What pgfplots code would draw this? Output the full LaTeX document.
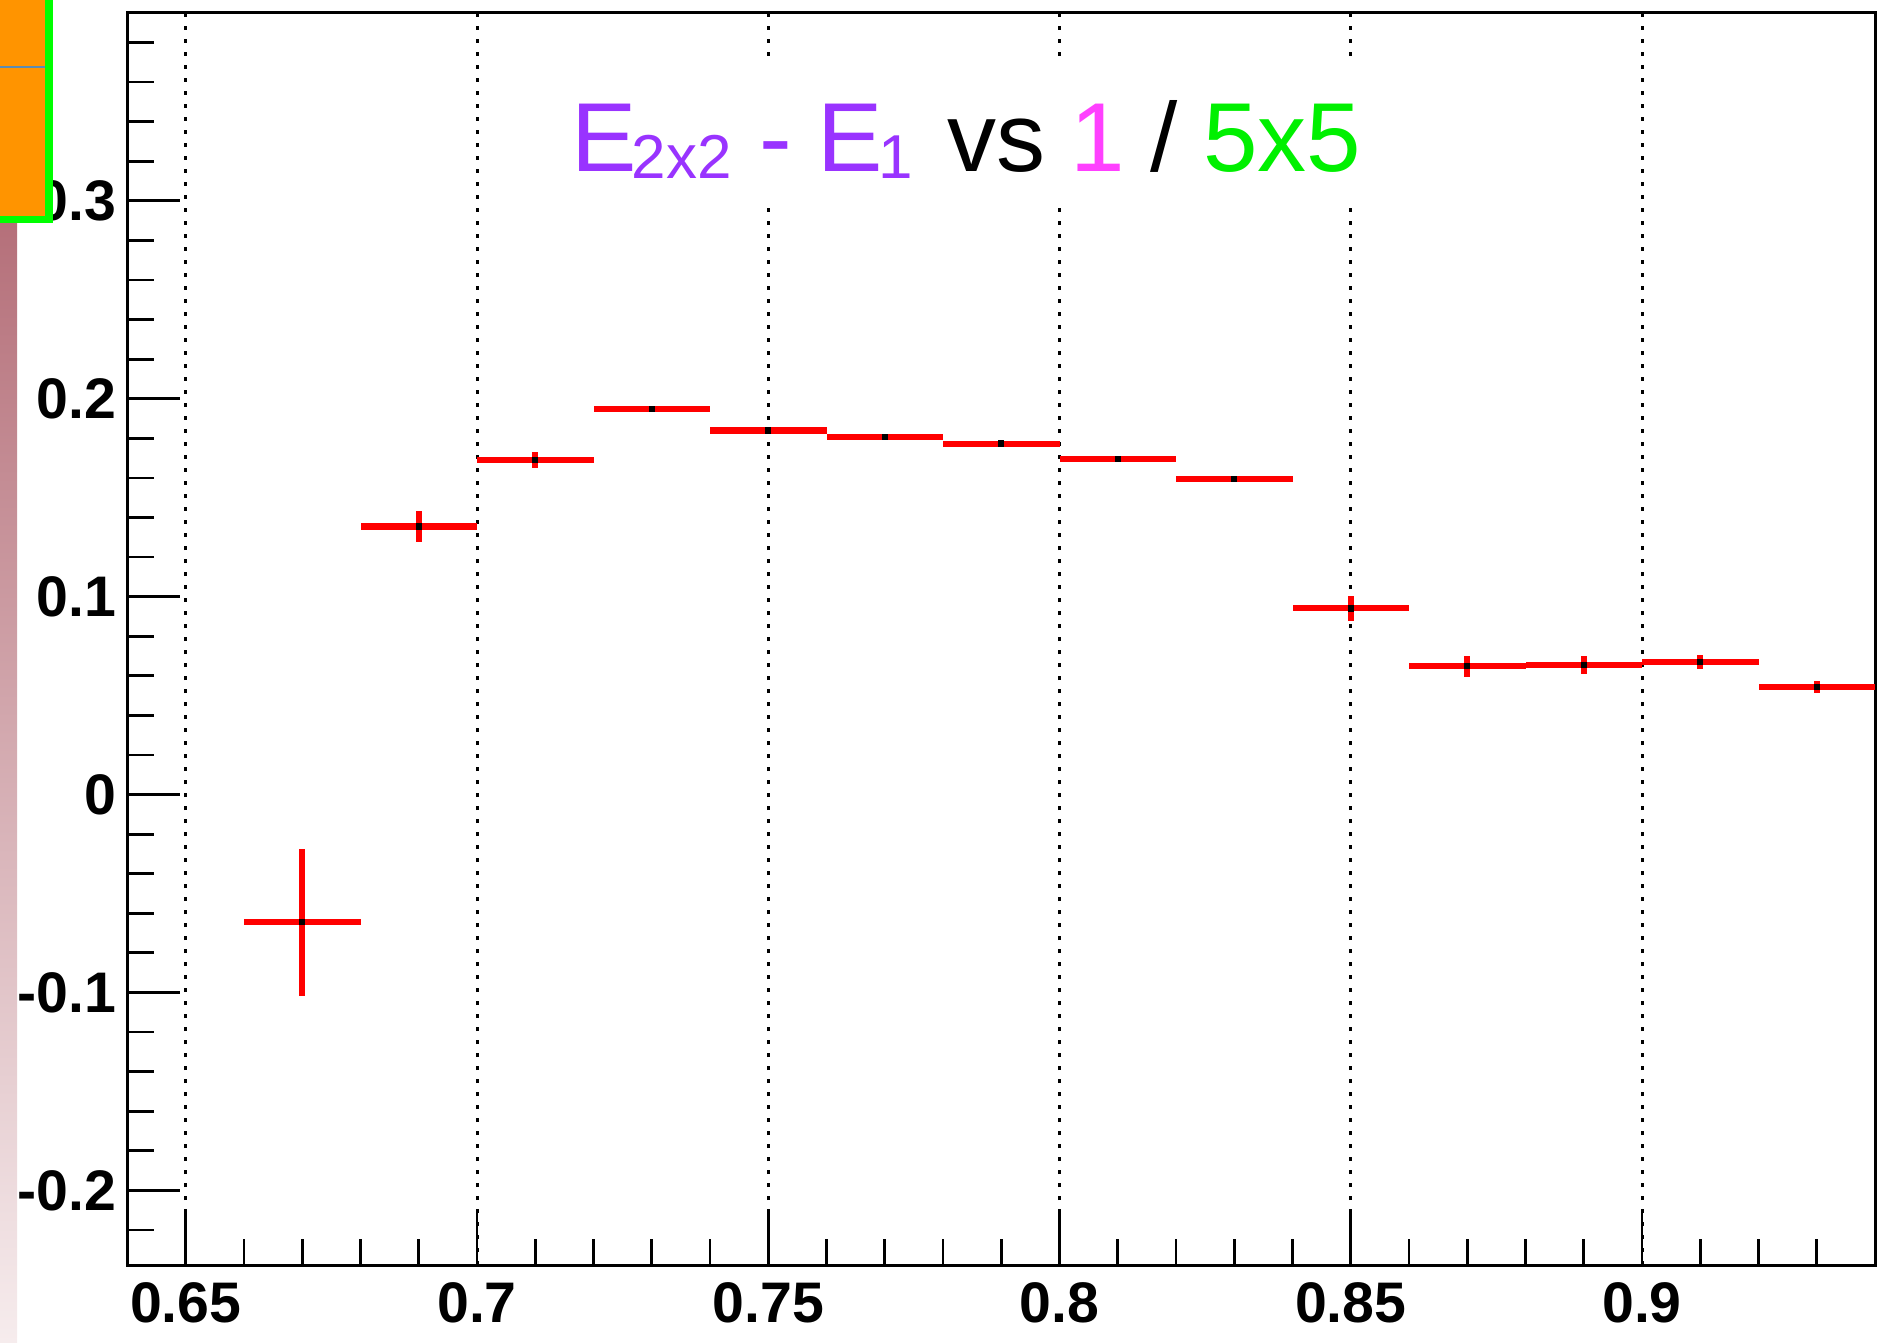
\documentclass[border=0pt]{standalone}
\usepackage{fontspec}
\setmainfont{Liberation Sans}
\usepackage{pgfplots}
\pgfplotsset{compat=1.18}
\usepackage{pgfplotstable}
\definecolor{tpurple}{RGB}{153,51,255}
\definecolor{tmag}{RGB}{255,64,255}
\definecolor{tgreen}{RGB}{0,240,0}
\definecolor{borange}{RGB}{255,148,0}
\definecolor{bgreen}{RGB}{0,255,0}
\definecolor{bline}{RGB}{90,140,180}
\definecolor{gtop}{RGB}{181,112,122}
\definecolor{gbot}{RGB}{246,236,237}

\pgfplotstableread{
x y ex ey
0.67 -0.0645 0.01 0.0372
0.69 0.1354 0.01 0.0080
0.71 0.1689 0.01 0.0040
0.73 0.1948 0.01 0.0008
0.75 0.1840 0.01 0.0008
0.77 0.1806 0.01 0.0008
0.79 0.1773 0.01 0.0008
0.81 0.1694 0.01 0.0010
0.83 0.1594 0.01 0.0010
0.85 0.0941 0.01 0.0062
0.87 0.0649 0.01 0.0053
0.89 0.0654 0.01 0.0044
0.91 0.0670 0.01 0.0036
0.93 0.0545 0.01 0.0031
}\datatable

\begin{document}
\begin{tikzpicture}
\useasboundingbox (0,0) rectangle (471.25pt,335.5pt);
\begin{axis}[
  at={(31.875pt,19.25pt)}, anchor=south west,
  scale only axis, width=436.875pt, height=313.25pt,
  xmin=0.64, xmax=0.94, ymin=-0.2377, ymax=0.3954,
  xtick={0.65,0.7,0.75,0.8,0.85,0.9},
  ytick={-0.2,-0.1,0,0.1,0.2,0.3},
  minor xtick={0.66,0.67,0.68,0.69,0.71,0.72,0.73,0.74,0.76,0.77,0.78,0.79,0.81,0.82,0.83,0.84,0.86,0.87,0.88,0.89,0.91,0.92,0.93},
  minor ytick={-0.22,-0.18,-0.16,-0.14,-0.12,-0.08,-0.06,-0.04,-0.02,0.02,0.04,0.06,0.08,0.12,0.14,0.16,0.18,0.22,0.24,0.26,0.28,0.32,0.34,0.36,0.38},
  tick align=inside, tick pos=left,
  major tick length=13pt, minor tick length=6.5pt,
  every tick/.append style={black, line width=0.7pt},
  axis line style={line width=0.75pt},
  xmajorgrids,
  major grid style={black, line width=0.75pt, dash pattern=on 1pt off 2.25pt},
  /pgf/number format/assume math mode=true,
  ticklabel style={font=\fontsize{14.3}{16}\selectfont\bfseries, inner sep=0pt},
  xticklabel style={yshift=-4.2pt},
  yticklabel style={xshift=-2.6pt},
]
\addplot[only marks, mark=square*, mark size=0.6pt, mark options={black}, draw=none,
  error bars/.cd, x dir=both, x explicit, y dir=both, y explicit,
  error bar style={red, line width=1.55pt, line cap=butt}, error mark=none]
  table[x=x, y=y, x error=ex, y error=ey]{\datatable};
\end{axis}
\begin{scope}[x=0.25pt, y=-0.25pt, shift={(0,335.5pt)}, every node/.style={anchor=base west, inner sep=0pt, font=\fontsize{24.5}{28}\selectfont}]
  \fill[white] (548,62) rectangle (1390,208);
  \node[tpurple] at (570.3,171.7) {E};
  \node[tpurple, font=\fontsize{15.5}{18}\selectfont] at (631,179) {2x2};
  \node[tpurple] at (758.6,171.7) {-};
  \node[tpurple] at (817,171.7) {E};
  \node[tpurple, font=\fontsize{15.5}{18}\selectfont] at (878,179) {1};
  \node[black] at (947,171.7) {vs};
  \node[tmag] at (1069.3,171.7) {1};
  \node[black] at (1150,171.7) {/};
  \node[tgreen] at (1202.5,171.7) {5x5};
  \shade[top color=gtop, bottom color=gbot] (0,223) rectangle (17,1342);
  \fill[bgreen] (0,-5) rectangle (53,223);
  \fill[borange] (0,-5) rectangle (45,216);
  \draw[bline, line width=0.5pt] (0,66.7) -- (45,66.7);
\end{scope}
\end{tikzpicture}
\end{document}
